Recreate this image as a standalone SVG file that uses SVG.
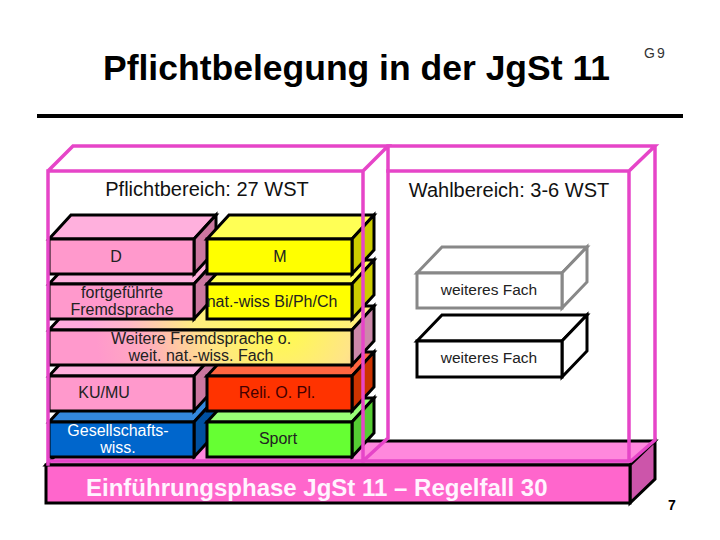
<svg xmlns="http://www.w3.org/2000/svg" width="720" height="540" viewBox="0 0 720 540">
<defs>
<radialGradient id="gWeit" gradientUnits="userSpaceOnUse" cx="280" cy="322" r="185">
<stop offset="0" stop-color="#FFFF44"/>
<stop offset="0.4" stop-color="#FFE488"/>
<stop offset="0.75" stop-color="#FFAAC0"/>
<stop offset="1" stop-color="#FF99CC"/>
</radialGradient>
<radialGradient id="gWeitTop" gradientUnits="userSpaceOnUse" cx="280" cy="315" r="190">
<stop offset="0" stop-color="#FFFF55"/>
<stop offset="0.45" stop-color="#FFEE80"/>
<stop offset="0.8" stop-color="#FFB8C8"/>
<stop offset="1" stop-color="#FFAADD"/>
</radialGradient>
</defs>
<style>
text{font-family:"Liberation Sans",Arial,sans-serif}
.blk{stroke:#000;stroke-width:3;stroke-linejoin:miter}
.lbl{font-size:16px;fill:#222;text-anchor:middle}
.pinkF{fill:#FF99CC}.pinkT{fill:#FFB0DD}.pinkS{fill:#CC77A0}
.yelF{fill:#FFFF00}.yelT{fill:#FFFF55}.yelS{fill:#CCCC00}
.redF{fill:#FF3300}.redT{fill:#FF6640}.redS{fill:#CC3300}
.bluF{fill:#0066CC}.bluT{fill:#3388DD}.bluS{fill:#0050A0}
.grnF{fill:#66FF33}.grnT{fill:#99FF77}.grnS{fill:#55CC33}
.mag{fill:none;stroke:#E645C8;stroke-width:3.5;stroke-linecap:square}
</style>
<rect width="720" height="540" fill="#fff"/>

<g id="title">
<text x="103" y="80" font-size="35.5" font-weight="bold" fill="#000">Pflichtbelegung in der JgSt 11</text>
<text x="644" y="58" font-size="14" fill="#333" letter-spacing="2">G9</text>
<line x1="37" y1="116" x2="683" y2="116" stroke="#000" stroke-width="4"/>
</g>

<g id="slab">
<polygon class="blk" points="46,465 70,441 655,441 630,465" fill="#FF88DD"/>
<polygon class="blk" points="630,465 655,441 655,479 630,503" fill="#CC55AA"/>
<rect class="blk" x="46" y="465" width="584" height="38" fill="#FF66CC"/>
<text x="86" y="496" font-size="24" font-weight="bold" fill="#FFF4FF">Einführungsphase JgSt 11 – Regelfall 30</text>
</g>

<g id="gesellschaft">
<polygon class="blk bluT" points="49,422 71,398 216,398 194,422"/>
<polygon class="blk bluS" points="194,422 216,398 216,433 194,457"/>
<rect class="blk bluF" x="49" y="422" width="145" height="35"/>
<text class="lbl" x="118" y="436" style="fill:#fff">Gesellschafts-</text>
<text class="lbl" x="118" y="453" style="fill:#fff">wiss.</text>
</g>
<g id="sport">
<polygon class="blk grnT" points="207,422 229,398 374,398 352,422"/>
<polygon class="blk grnS" points="352,422 374,398 374,433 352,457"/>
<rect class="blk grnF" x="207" y="422" width="145" height="35"/>
<text class="lbl" x="278" y="444">Sport</text>
</g>

<g id="kumu">
<polygon class="blk pinkT" points="49,376 71,352 216,352 194,376"/>
<polygon class="blk pinkS" points="194,376 216,352 216,387 194,411"/>
<rect class="blk pinkF" x="49" y="376" width="145" height="35"/>
<text class="lbl" x="104" y="398">KU/MU</text>
</g>
<g id="reli">
<polygon class="blk redT" points="207,376 229,352 374,352 352,376"/>
<polygon class="blk redS" points="352,376 374,352 374,387 352,411"/>
<rect class="blk redF" x="207" y="376" width="145" height="35"/>
<text class="lbl" x="277" y="398" style="fill:#400">Reli. O. Pl.</text>
</g>

<g id="weitere">
<polygon class="blk" points="49,330 71,306 374,306 352,330" fill="url(#gWeitTop)"/>
<polygon class="blk" points="352,330 374,306 374,341 352,365" fill="#CC88AA"/>
<rect class="blk" x="49" y="330" width="303" height="35" fill="url(#gWeit)"/>
<text class="lbl" x="201" y="344">Weitere Fremdsprache o.</text>
<text class="lbl" x="201" y="361">weit. nat.-wiss. Fach</text>
</g>

<g id="fremdsprache">
<polygon class="blk pinkT" points="49,284 71,260 216,260 194,284"/>
<polygon class="blk pinkS" points="194,284 216,260 216,295 194,319"/>
<rect class="blk pinkF" x="49" y="284" width="145" height="35"/>
<text class="lbl" x="122" y="298">fortgeführte</text>
<text class="lbl" x="122" y="315">Fremdsprache</text>
</g>
<g id="natwiss">
<polygon class="blk yelT" points="207,284 229,260 374,260 352,284"/>
<polygon class="blk yelS" points="352,284 374,260 374,295 352,319"/>
<rect class="blk yelF" x="207" y="284" width="145" height="35"/>
<text class="lbl" x="272" y="307">nat.-wiss Bi/Ph/Ch</text>
</g>

<g id="deutsch">
<polygon class="blk pinkT" points="49,239 71,215 216,215 194,239"/>
<polygon class="blk pinkS" points="194,239 216,215 216,250 194,274"/>
<rect class="blk pinkF" x="49" y="239" width="145" height="35"/>
<text class="lbl" x="116" y="262">D</text>
</g>
<g id="mathe">
<polygon class="blk yelT" points="207,239 229,215 374,215 352,239"/>
<polygon class="blk yelS" points="352,239 374,215 374,250 352,274"/>
<rect class="blk yelF" x="207" y="239" width="145" height="35"/>
<text class="lbl" x="280" y="262">M</text>
</g>

<g id="wahl1">
<polygon points="417,273 442,247 587,247 562,273" fill="#fff" stroke="#888" stroke-width="3"/>
<polygon points="562,273 587,247 587,282 562,308" fill="#fff" stroke="#888" stroke-width="3"/>
<rect x="417" y="273" width="145" height="35" fill="#fff" stroke="#888" stroke-width="3"/>
<text class="lbl" x="489" y="295" style="font-size:15.5px">weiteres Fach</text>
</g>
<g id="wahl2">
<polygon class="blk" points="417,341 442,315 587,315 562,341" fill="#fff"/>
<polygon class="blk" points="562,341 587,315 587,351 562,377" fill="#fff"/>
<rect class="blk" x="417" y="341" width="145" height="36" fill="#fff"/>
<text class="lbl" x="489" y="363" style="font-size:15.5px">weiteres Fach</text>
</g>

<g id="pflichtbereich">
<path class="mag" d="M48,464 V171 L73,146 H388 L363,171 H48 M363,171 V461 M388,146 V438 L363,461 H48"/>
<text x="207" y="196" font-size="20" fill="#111" text-anchor="middle">Pflichtbereich: 27 WST</text>
</g>
<g id="wahlbereich">
<path class="mag" d="M388,171 H629 L655,146 H388 M629,171 V461 M655,146 V440 L631,461 H363"/>
<text x="509" y="197" font-size="20" fill="#111" text-anchor="middle">Wahlbereich: 3-6 WST</text>
</g>

<g id="connectors"/>

<text x="668" y="510" font-size="14" font-weight="bold" fill="#000">7</text>
</svg>
